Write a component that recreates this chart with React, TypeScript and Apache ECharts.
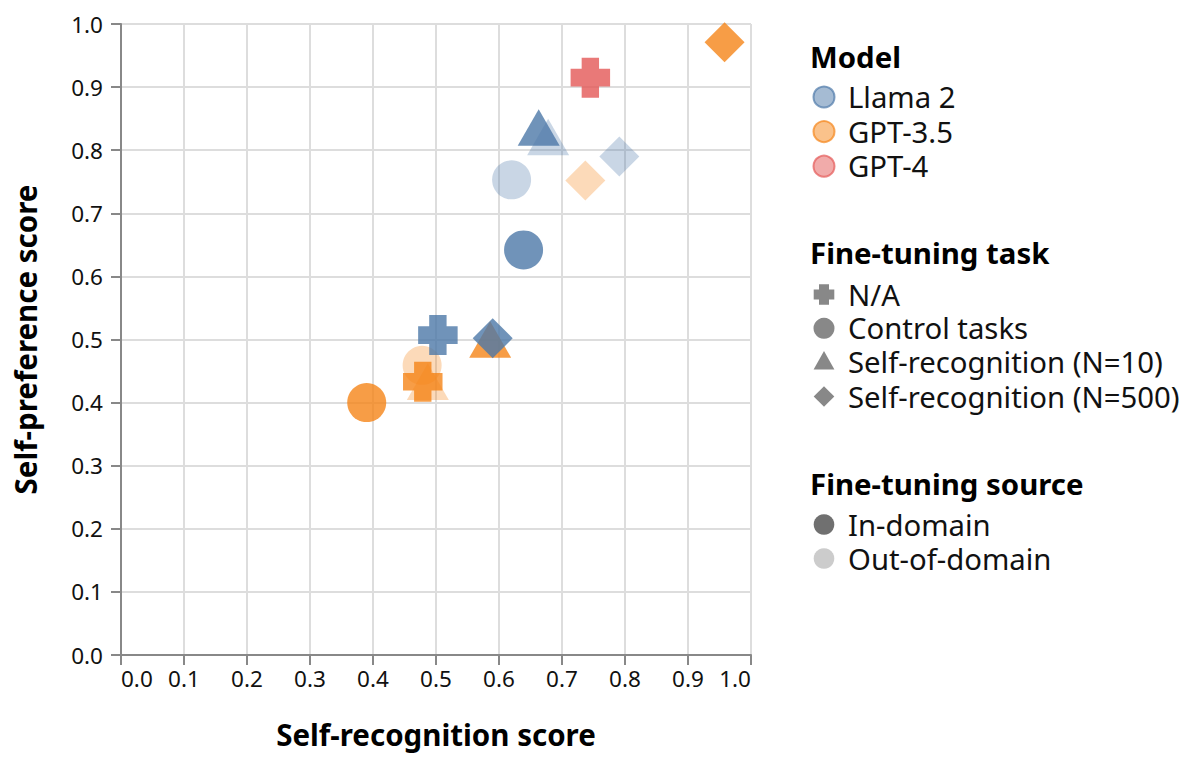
import React, { useEffect, useRef } from "react";
import * as echarts from "echarts";

const models = ["Llama 2", "GPT-3.5", "GPT-4"];
const modelColors = ["#4c78a8", "#f58518", "#e45756"];
const tasks = ["N/A", "Control tasks", "Self-recognition (N=10)", "Self-recognition (N=500)"];
const sources = ["In-domain", "Out-of-domain"];

// per-point fields
const pointModel = [1, 1, 1, 1, 1, 1, 1, 0, 0, 0, 0, 0, 0, 0, 2];
const pointTask = [0, 1, 1, 2, 2, 3, 3, 0, 1, 1, 2, 2, 3, 3, 0];
const pointSource = [0, 0, 1, 0, 1, 0, 1, 0, 0, 1, 0, 1, 0, 1, 0];
const selfRecognition = [0.479, 0.39, 0.478, 0.586, 0.487, 0.958, 0.737, 0.503, 0.639, 0.62, 0.663, 0.678, 0.59, 0.791, 0.745];
const selfPreference = [0.433, 0.4, 0.459, 0.5, 0.433, 0.971, 0.752, 0.507, 0.642, 0.753, 0.836, 0.821, 0.502, 0.79, 0.915];

const xTicks = [0, 0.1, 0.2, 0.3, 0.4, 0.5, 0.6, 0.7, 0.8, 0.9, 1.0];

const FONT = "Noto Sans";
const CROSS = "path://M0.28,0H0.72V0.28H1V0.72H0.72V1H0.28V0.72H0V0.28H0.28Z";
const taskSymbols = [CROSS, "circle", "triangle", "diamond"];
const taskSizes: any[] = [[39.5, 40], 39, [42, 36.4], 40];
const sourceOpacity = [0.8, 0.3];

function hexA(hex: string, a: number) {
  const r = parseInt(hex.slice(1, 3), 16);
  const g = parseInt(hex.slice(3, 5), 16);
  const b = parseInt(hex.slice(5, 7), 16);
  return `rgba(${r},${g},${b},${a})`;
}

function legendGraphics() {
  const els: any[] = [];
  const sx = 824;
  const tx = 848;
  const labelStyle = (text: string, y: number) => ({
    type: "text",
    x: tx,
    y,
    style: { text, font: `29.3px "${FONT}"`, lineHeight: 30, fill: "#111", textVerticalAlign: "middle" },
  });
  const titleStyle = (text: string, y: number) => ({
    type: "text",
    x: 810,
    y,
    style: { text, font: `bold 29.4px "${FONT}"`, lineHeight: 30, fill: "#000", textVerticalAlign: "middle" },
  });
  // Model legend
  els.push(titleStyle("Model", 57));
  const modelY = [97, 131.6, 166.2];
  models.forEach((m, i) => {
    els.push({
      type: "circle",
      shape: { cx: sx, cy: modelY[i], r: 10.5 },
      style: { fill: hexA(modelColors[i], 0.5), stroke: hexA(modelColors[i], 0.7), lineWidth: 2 },
    });
    els.push(labelStyle(m, modelY[i]));
  });
  // Task legend
  els.push(titleStyle("Fine-tuning task", 253));
  const taskY = [294.5, 328.3, 362.1, 396.5];
  const g = "#888888";
  tasks.forEach((t, i) => {
    const cy = taskY[i];
    if (i === 0) {
      const r = 10.3, s = 5;
      els.push({
        type: "polygon",
        shape: {
          points: [
            [sx - s, cy - r], [sx + s, cy - r], [sx + s, cy - s], [sx + r, cy - s], [sx + r, cy + s], [sx + s, cy + s],
            [sx + s, cy + r], [sx - s, cy + r], [sx - s, cy + s], [sx - r, cy + s], [sx - r, cy - s], [sx - s, cy - s],
          ],
        },
        style: { fill: g },
      });
    } else if (i === 1) {
      els.push({ type: "circle", shape: { cx: sx, cy, r: 10.5 }, style: { fill: g } });
    } else if (i === 2) {
      els.push({
        type: "polygon",
        shape: { points: [[sx, cy - 11], [sx + 10.4, cy + 7.5], [sx - 10.4, cy + 7.5]] },
        style: { fill: g },
      });
    } else {
      els.push({
        type: "polygon",
        shape: { points: [[sx, cy - 10.3], [sx + 10.3, cy], [sx, cy + 10.3], [sx - 10.3, cy]] },
        style: { fill: g },
      });
    }
    els.push(labelStyle(t, cy));
  });
  // Source legend
  els.push(titleStyle("Fine-tuning source", 484));
  const srcY = [524.5, 558.5];
  const srcColors = ["#707070", "#cccccc"];
  sources.forEach((s, i) => {
    els.push({ type: "circle", shape: { cx: sx, cy: srcY[i], r: 10.3 }, style: { fill: srcColors[i] } });
    els.push(labelStyle(s, srcY[i]));
  });
  return els;
}

export default function App() {
  const ref = useRef<HTMLDivElement>(null);
  useEffect(() => {
    if (!ref.current) return;
    const chart = echarts.init(ref.current, undefined, { renderer: "svg" });
    const order = [1, 0, 2]; // GPT-3.5 drawn first, then Llama 2, then GPT-4
    const series = order.map((mi) => {
      const data: any[] = [];
      selfRecognition.forEach((x, k) => {
        if (pointModel[k] !== mi) return;
        data.push({
          value: [x, selfPreference[k]],
          symbol: taskSymbols[pointTask[k]],
          symbolSize: taskSizes[pointTask[k]],
          itemStyle: { color: modelColors[mi], opacity: sourceOpacity[pointSource[k]] },
          name: `${tasks[pointTask[k]]} / ${sources[pointSource[k]]}`,
        });
      });
      return { type: "scatter", name: models[mi], data, z: 3 };
    });
    const axisCommon = {
      type: "value",
      min: 0,
      max: 1,
      interval: 0.1,
      axisLine: { show: true, lineStyle: { color: "#888888", width: 2 } },
      axisTick: { show: true, length: 10, lineStyle: { color: "#888888", width: 2 } },
      splitLine: { show: true, lineStyle: { color: "#dddddd", width: 2 } },
      nameLocation: "middle",
      nameTextStyle: { fontFamily: FONT, fontSize: 29.5, fontWeight: "bold", color: "#000" },
    };
    chart.setOption({
      animation: false,
      textStyle: { fontFamily: FONT },
      grid: { left: 121, right: 449, top: 24, bottom: 106, containLabel: false },
      xAxis: {
        ...axisCommon,
        name: "Self-recognition score",
        nameGap: 64,
        axisLabel: {
          fontFamily: FONT,
          fontSize: 22.5,
          color: "#111",
          margin: 12,
          alignMinLabel: "left",
          alignMaxLabel: "right",
          customValues: xTicks,
          formatter: (v: number) => v.toFixed(1),
        },
      },
      yAxis: {
        ...axisCommon,
        name: "Self-preference score",
        nameGap: 81,
        axisLabel: {
          fontFamily: FONT,
          fontSize: 22.5,
          color: "#111",
          margin: 18,
          formatter: (v: number) => v.toFixed(1),
        },
      },
      series,
      graphic: legendGraphics(),
    });
    return () => chart.dispose();
  }, []);
  return <div ref={ref} style={{ position: "absolute", left: 0, top: 0, width: 1200, height: 761 }} />;
}
